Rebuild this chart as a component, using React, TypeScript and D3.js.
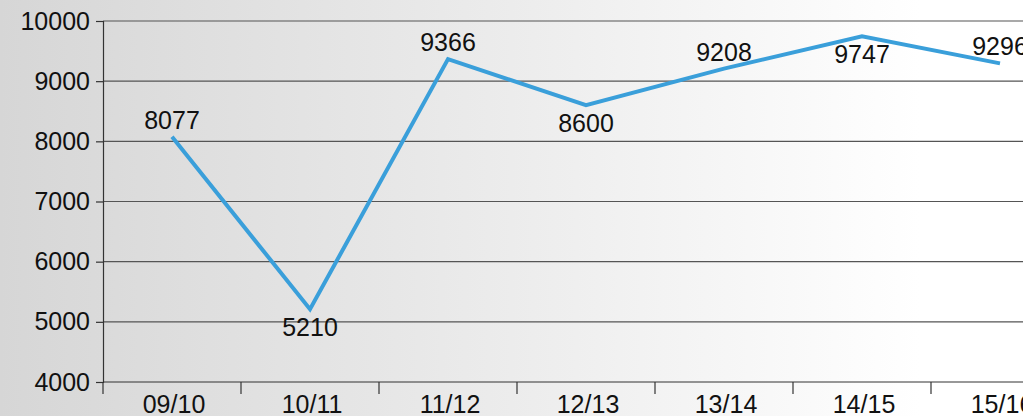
import React, { useEffect, useRef } from 'react';
import * as d3 from 'd3';

const seasons = ['09/10', '10/11', '11/12', '12/13', '13/14', '14/15', '15/16'];
const values = [8077, 5210, 9366, 8600, 9208, 9747, 9296];
// label above (1) or below (-1) the point
const labelSide = [1, -1, 1, -1, 1, -1, 1];
const yTicks = [4000, 5000, 6000, 7000, 8000, 9000, 10000];

const App = () => {
  const svgRef = useRef<SVGSVGElement>(null);

  useEffect(() => {
    const W = 1023;
    const H = 416;
    const left = 103;
    const top = 21;
    const bottom = 382;
    const font = '"Liberation Sans", Arial, sans-serif';

    const svg = d3.select(svgRef.current);
    svg.selectAll('*').remove();
    svg.attr('width', W).attr('height', H);

    // Background gradient
    const grad = svg
      .append('defs')
      .append('linearGradient')
      .attr('id', 'bg')
      .attr('x1', '0%')
      .attr('x2', '100%');
    grad.append('stop').attr('offset', '0%').attr('stop-color', '#d6d6d6');
    grad.append('stop').attr('offset', '50%').attr('stop-color', '#ececec');
    grad.append('stop').attr('offset', '90%').attr('stop-color', '#ffffff');
    svg.append('rect').attr('width', W).attr('height', H).attr('fill', 'url(#bg)');

    const x = d3.scaleBand().domain(seasons).range([left, left + 138 * 7]).padding(0);
    const y = d3.scaleLinear().domain([4000, 10000]).range([bottom, top]);

    // Gridlines
    svg
      .selectAll('.grid')
      .data(yTicks.filter(t => t > 4000))
      .enter()
      .append('line')
      .attr('x1', left)
      .attr('x2', W)
      .attr('y1', d => y(d))
      .attr('y2', d => y(d))
      .attr('stroke', '#555')
      .attr('stroke-width', 1.2);

    // Y axis
    const yAxis = svg
      .append('g')
      .attr('transform', `translate(${left},0)`)
      .call(d3.axisLeft(y).tickValues(yTicks).tickSize(7).tickPadding(6).tickFormat(d => String(d)));
    yAxis.select('.domain').attr('stroke', '#333').attr('stroke-width', 1.2);
    yAxis.selectAll('.tick line').attr('stroke', '#333').attr('stroke-width', 1.2);
    yAxis
      .selectAll('.tick text')
      .attr('fill', '#111')
      .style('font-family', font)
      .style('font-size', '25px');

    // X axis
    svg
      .append('line')
      .attr('x1', left)
      .attr('x2', W)
      .attr('y1', bottom)
      .attr('y2', bottom)
      .attr('stroke', '#333')
      .attr('stroke-width', 1.2);
    svg
      .selectAll('.xtick')
      .data(seasons)
      .enter()
      .append('line')
      .attr('x1', d => x(d)!)
      .attr('x2', d => x(d)!)
      .attr('y1', bottom)
      .attr('y2', bottom + 12)
      .attr('stroke', '#333')
      .attr('stroke-width', 1.2);
    svg
      .selectAll('.xlabel')
      .data(seasons)
      .enter()
      .append('text')
      .attr('x', d => x(d)! + x.bandwidth() / 2 + 2)
      .attr('y', 413)
      .attr('text-anchor', 'middle')
      .attr('fill', '#111')
      .style('font-family', font)
      .style('font-size', '25px')
      .text(d => d);

    // Line
    const pts = seasons.map((s, i) => ({ s, v: values[i], side: labelSide[i] }));
    const line = d3
      .line<{ s: string; v: number }>()
      .x(d => x(d.s)! + x.bandwidth() / 2)
      .y(d => y(d.v));
    svg
      .append('path')
      .datum(pts)
      .attr('d', line)
      .attr('fill', 'none')
      .attr('stroke', '#3a9fda')
      .attr('stroke-width', 4);

    // Value labels
    svg
      .selectAll('.val')
      .data(pts)
      .enter()
      .append('text')
      .attr('x', d => x(d.s)! + x.bandwidth() / 2)
      .attr('y', d => y(d.v) + (d.side > 0 ? -8 : 27))
      .attr('text-anchor', 'middle')
      .attr('fill', '#111')
      .style('font-family', font)
      .style('font-size', '25px')
      .text(d => d.v);
  }, []);

  return <svg ref={svgRef} style={{ position: 'absolute', left: 0, top: 0 }}></svg>;
};

export default App;
